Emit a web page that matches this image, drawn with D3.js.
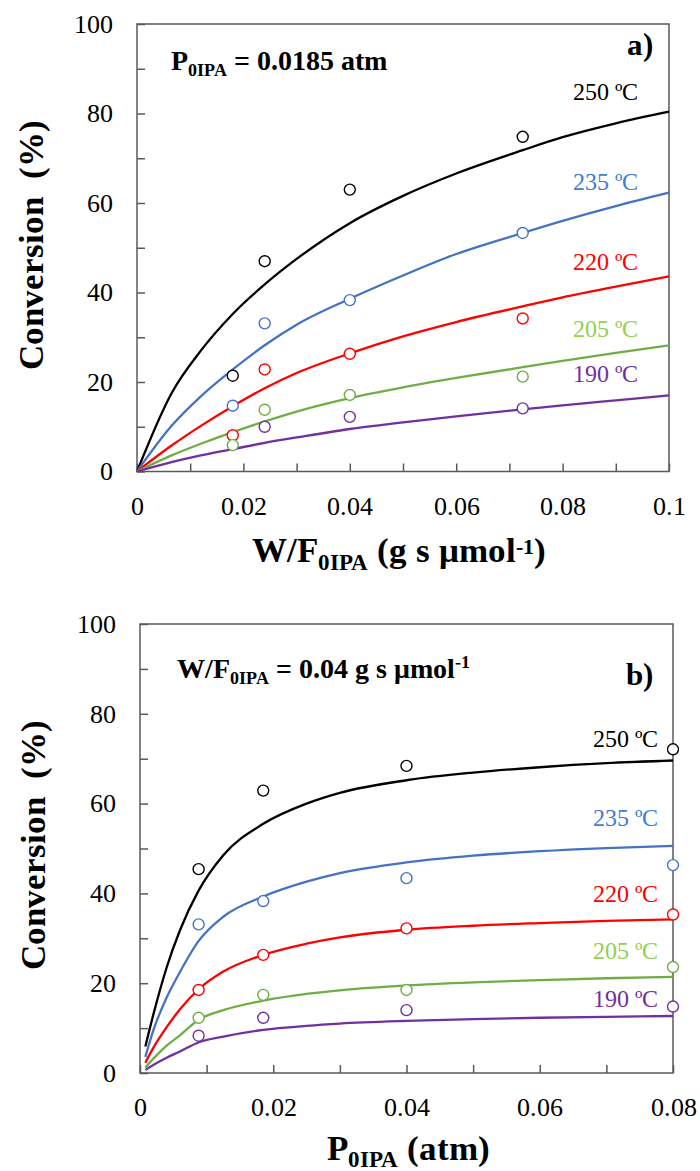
<!DOCTYPE html>
<html><head><meta charset="utf-8">
<script src="https://cdn.jsdelivr.net/npm/d3@7/dist/d3.min.js"></script>
<style>
@font-face{font-family:"RefSerif";font-weight:normal;
  src:local("Liberation Serif"),local("LiberationSerif"),local("LiberationSerif-Regular"),local("Times New Roman"),local("TimesNewRomanPSMT"),local("Tinos"),local("FreeSerif"),local("Nimbus Roman"),local("DejaVu Serif"),local("DejaVuSerif"),local("Noto Serif"),local("NotoSerif-Regular");}
@font-face{font-family:"RefSerif";font-weight:bold;
  src:local("Liberation Serif Bold"),local("LiberationSerif-Bold"),local("Times New Roman Bold"),local("TimesNewRomanPS-BoldMT"),local("Tinos Bold"),local("FreeSerif Bold"),local("FreeSerifBold"),local("Nimbus Roman Bold"),local("DejaVu Serif Bold"),local("DejaVuSerif-Bold"),local("Noto Serif Bold"),local("NotoSerif-Bold");}
body{margin:0;background:#fff}
svg{display:block}
text{font-family:"RefSerif","Liberation Serif","Times New Roman",Times,"Tinos","FreeSerif","DejaVu Serif","Noto Serif",serif}
</style>
</head><body><div id="chart"></div>
<script>
// ---------- data ----------
const temps = ["250 ºC", "235 ºC", "220 ºC", "205 ºC", "190 ºC"];
const lineColors = ["#000000", "#4472C4", "#FF0000", "#70AD47", "#7030A0"];
const labelColors = ["#000000", "#3B7DD8", "#FF0000", "#92D050", "#7030A0"];

// panel a : conversion vs W/F0IPA
const aXTicks = [0, 0.01, 0.02, 0.03, 0.04, 0.05, 0.06, 0.07, 0.08, 0.09, 0.1];
const yTicks = [0, 10, 20, 30, 40, 50, 60, 70, 80, 90, 100];
const aPointX = [0.018, 0.024, 0.040, 0.0725];
const aPoints250 = [21.4, 47.0, 63.0, 74.8];
const aPoints235 = [14.7, 33.1, 38.3, 53.3];
const aPoints220 = [8.1, 22.8, 26.3, 34.2];
const aPoints205 = [5.9, 13.8, 17.1, 21.2];
const aPoints190 = [null, 10.0, 12.2, 14.1];
const aCurveX = [0, 0.0065, 0.012, 0.018, 0.024, 0.03, 0.04, 0.05, 0.06, 0.0725, 0.08, 0.09, 0.1];
const aCurve250 = [0, 17.5, 27.0, 35.2, 41.8, 47.5, 55.5, 61.6, 66.6, 71.8, 74.7, 77.8, 80.4];
const aCurve235 = [0, 10.2, 16.8, 22.8, 28.2, 32.8, 38.6, 43.8, 48.6, 53.3, 56.0, 59.3, 62.3];
const aCurve220 = [0, 5.8, 10.2, 14.6, 18.6, 22.0, 26.4, 30.2, 33.4, 36.9, 38.9, 41.3, 43.6];
const aCurve205 = [0, 3.6, 6.2, 8.8, 11.2, 13.4, 16.4, 18.8, 20.9, 23.3, 24.7, 26.5, 28.2];
const aCurve190 = [0, 2.1, 3.6, 5.0, 6.4, 7.6, 9.5, 11.0, 12.3, 13.9, 14.8, 15.9, 17.0];
const aLabelY = [83, 63, 45, 30, 20]; // label anchor values (conversion units)

// panel b : conversion vs P0IPA
const bXTicks = [0, 0.01, 0.02, 0.03, 0.04, 0.05, 0.06, 0.07, 0.08];
const bPointX = [0.0088, 0.0185, 0.040, 0.080];
const bPoints250 = [45.4, 62.9, 68.4, 72.1];
const bPoints235 = [33.1, 38.3, 43.4, 46.3];
const bPoints220 = [18.5, 26.3, 32.2, 35.3];
const bPoints205 = [12.3, 17.4, 18.5, 23.6];
const bPoints190 = [8.3, 12.3, 14.0, 14.8];
const bCurveX = [0.0008, 0.002, 0.004, 0.006, 0.00875, 0.0125, 0.0185, 0.025, 0.03, 0.04, 0.05, 0.06, 0.07, 0.08];
const bCurve250 = [5.9, 13.0, 23.5, 31.8, 40.5, 48.5, 55.5, 60.0, 62.4, 65.2, 66.9, 68.1, 69.0, 69.6];
const bCurve235 = [3.6, 9.5, 16.8, 22.5, 29.3, 34.8, 39.3, 42.6, 44.5, 46.9, 48.4, 49.4, 50.1, 50.6];
const bCurve220 = [2.3, 5.6, 10.2, 14.2, 18.6, 22.6, 26.3, 28.8, 30.2, 31.9, 32.8, 33.4, 33.9, 34.2];
const bCurve205 = [1.2, 3.2, 6.1, 8.4, 11.8, 14.0, 16.1, 17.6, 18.4, 19.5, 20.2, 20.7, 21.1, 21.4];
const bCurve190 = [0.7, 1.8, 3.4, 4.8, 6.8, 8.1, 9.6, 10.5, 11.0, 11.6, 12.0, 12.3, 12.5, 12.7];
const bLabelY = [72.5, 55, 38, 25.3, 14.8];

// ---------- drawing ----------
const W = 700, H = 1171;
const FONT = '"RefSerif","Liberation Serif","Times New Roman",Times,"Tinos","FreeSerif","DejaVu Serif","Noto Serif",serif';
const svg = d3.select("#chart").append("svg").attr("width", W).attr("height", H)
  .attr("font-family", FONT);
const frameColor = "#595959";

function panel(cfg) {
  const x = d3.scaleLinear().domain(cfg.xDomain).range([cfg.left, cfg.right]);
  const y = d3.scaleLinear().domain([0, 100]).range([cfg.bottom, cfg.top]);
  const g = svg.append("g");

  const xa = g.append("g").attr("transform", `translate(0,${cfg.bottom})`)
    .call(d3.axisBottom(x).tickValues(cfg.xTicks).tickSizeInner(-8).tickSizeOuter(0).tickPadding(25)
      .tickFormat(d => (Math.round(d * 100) % 2 === 0) ? (d === 0 ? "0" : d3.format(".2~f")(d)) : ""));
  const ya = g.append("g").attr("transform", `translate(${cfg.left},0)`)
    .call(d3.axisLeft(y).tickValues(yTicks).tickSizeInner(-8).tickSizeOuter(0).tickPadding(24)
      .tickFormat(d => d % 20 === 0 ? d : ""));
  [xa, ya].forEach(a => {
    a.attr("font-family", FONT);
    a.select(".domain").remove();
    a.selectAll("line").attr("stroke", frameColor).attr("stroke-width", 1.5);
    a.selectAll("text").attr("font-size", 26).attr("fill", "#000").attr("font-family", FONT);
  });

  g.append("rect").attr("x", cfg.left).attr("y", cfg.top)
    .attr("width", cfg.right - cfg.left).attr("height", cfg.bottom - cfg.top)
    .attr("fill", "none").attr("stroke", frameColor).attr("stroke-width", 1.5);

  const line = d3.line().x(d => x(d[0])).y(d => y(d[1])).curve(d3.curveMonotoneX);
  cfg.curves.forEach((c, i) => {
    g.append("path").datum(cfg.curveX.map((v, k) => [v, c[k]]))
      .attr("d", line).attr("fill", "none").attr("stroke", lineColors[i]).attr("stroke-width", 2.3);
  });
  cfg.points.forEach((p, i) => {
    g.selectAll(null).data(cfg.pointX.map((v, k) => [v, p[k]]).filter(d => d[1] != null))
      .enter().append("circle")
      .attr("cx", d => x(d[0])).attr("cy", d => y(d[1])).attr("r", 5.5)
      .attr("fill", "#fff").attr("stroke", lineColors[i]).attr("stroke-width", 1.4);
  });
  temps.forEach((t, i) => {
    g.append("text").attr("x", cfg.labelRight).attr("y", y(cfg.labelY[i]))
      .attr("text-anchor", "end").attr("font-size", 24).attr("fill", labelColors[i]).text(t);
  });
  return {x, y, g};
}

panel({
  xDomain: [0, 0.1], left: 137, right: 669, top: 24, bottom: 471.5,
  xTicks: aXTicks, curveX: aCurveX, pointX: aPointX,
  curves: [aCurve250, aCurve235, aCurve220, aCurve205, aCurve190],
  points: [aPoints250, aPoints235, aPoints220, aPoints205, aPoints190],
  labelY: aLabelY, labelRight: 638
});
panel({
  xDomain: [0, 0.08], left: 140, right: 673, top: 624, bottom: 1073,
  xTicks: bXTicks, curveX: bCurveX, pointX: bPointX,
  curves: [bCurve250, bCurve235, bCurve220, bCurve205, bCurve190],
  points: [bPoints250, bPoints235, bPoints220, bPoints205, bPoints190],
  labelY: bLabelY, labelRight: 658
});

function bold(x, y, size, anchor) {
  return svg.append("text").attr("x", x).attr("y", y).attr("font-size", size)
    .attr("font-weight", "bold").attr("text-anchor", anchor || "start");
}
let t = bold(171, 70, 28);
t.append("tspan").text("P");
t.append("tspan").attr("font-size", 18).attr("dy", 6).text("0IPA");
t.append("tspan").attr("dy", -6).text(" = 0.0185 atm");
bold(653, 55, 31, "end").text("a)");

t = bold(177, 678, 28);
t.append("tspan").text("W/F");
t.append("tspan").attr("font-size", 18).attr("dy", 6).text("0IPA");
t.append("tspan").attr("dy", -6).text(" = 0.04 g s μmol");
t.append("tspan").attr("font-size", 18).attr("dy", -10).text("-1");
bold(653, 685, 31, "end").text("b)");

t = bold(399, 562, 35, "middle");
t.append("tspan").text("W/F");
t.append("tspan").attr("font-size", 23).attr("dy", 8).text("0IPA");
t.append("tspan").attr("dy", -8).text(" (g s μmol");
t.append("tspan").attr("font-size", 22).attr("dy", -8).text("-1");
t.append("tspan").attr("dy", 8).text(")");

t = bold(408, 1160, 35, "middle");
t.append("tspan").text("P");
t.append("tspan").attr("font-size", 23).attr("dy", 7).text("0IPA");
t.append("tspan").attr("dy", -7).text(" (atm)");

[[43, 245], [45, 845]].forEach(([cx, cy]) => {
  svg.append("text").attr("transform", `translate(${cx},${cy}) rotate(-90)`)
    .attr("text-anchor", "middle").attr("font-size", 35).attr("font-weight", "bold")
    .style("white-space", "pre")
    .text("Conversion  (%)");
});
</script>
</body></html>
